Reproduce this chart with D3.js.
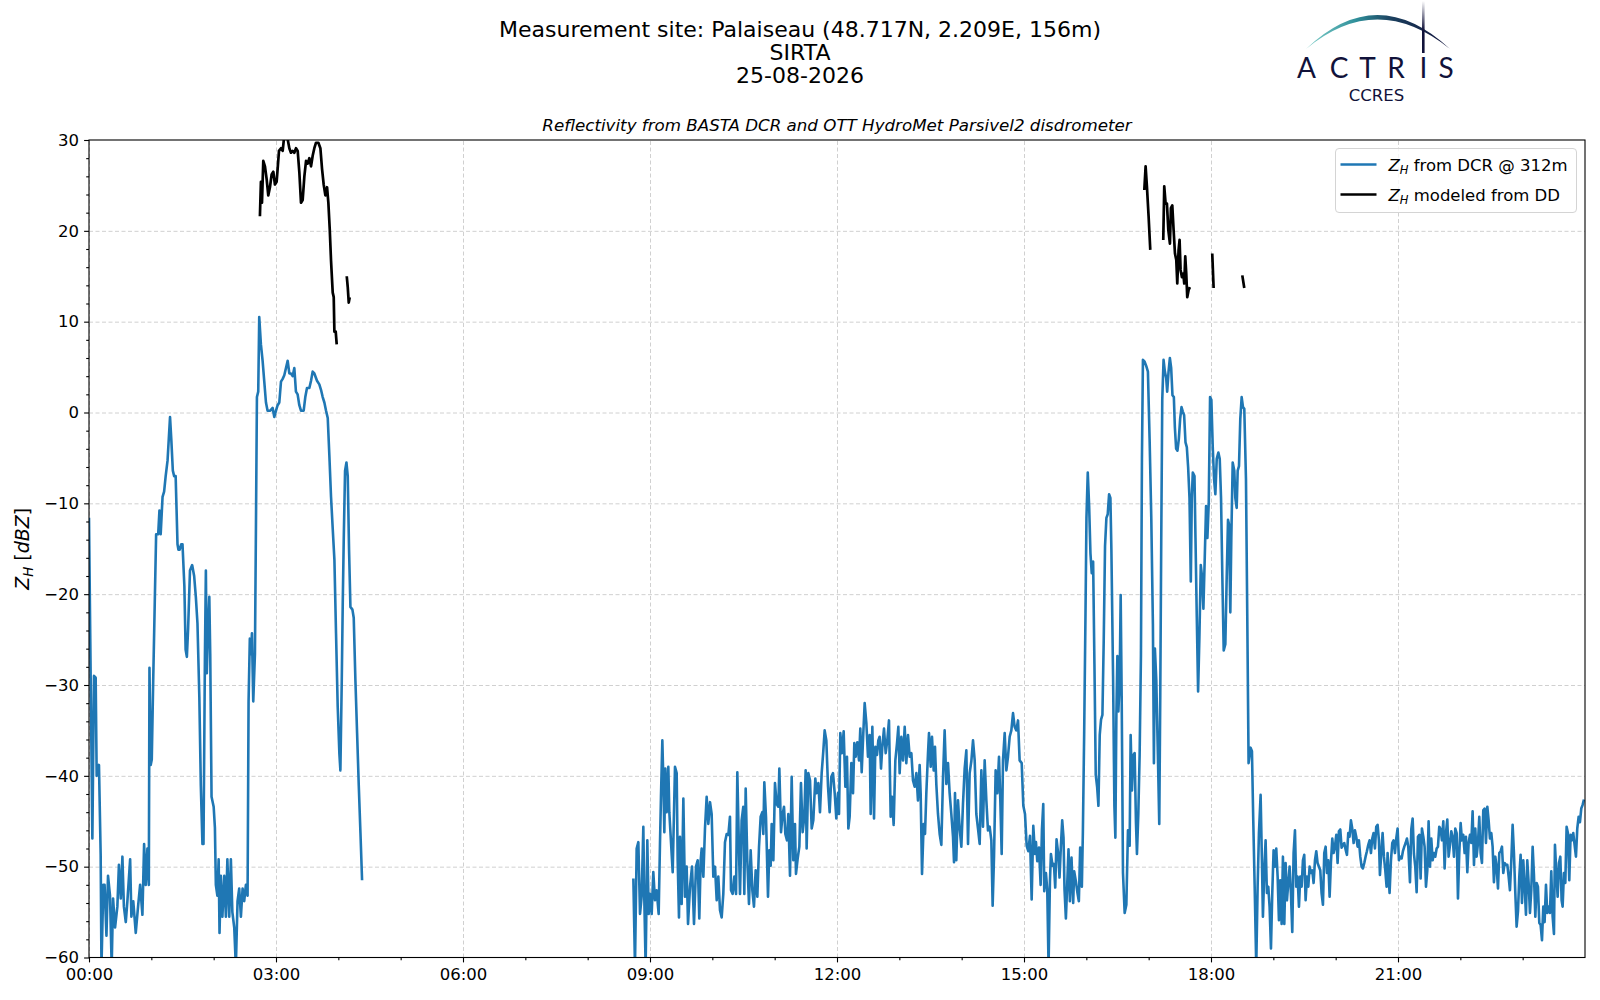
<!DOCTYPE html>
<html>
<head>
<meta charset="utf-8">
<script src="https://cdn.jsdelivr.net/npm/d3@7"></script>
<style>
    body { margin: 0; background: #ffffff; }
    svg text { font-family: "DejaVu Sans", sans-serif; fill: #000; }
    .grid line { stroke: #d0d0d0; stroke-dasharray: 4,2.5; stroke-width: 1; }
    .grid path { display: none; }
    .axis path { display: none; }
    .axis line { stroke: #000; stroke-width: 1.1; }
    .axis text { font-size: 16.5px; }
</style>
</head>
<body>
<div id="chart"></div>
<script>

// ---- values: time in decimal hours, Z_H in dBZ ----

// DCR @ 312m, night rain (00:00 - 04:23)
const dcrTime1 = [0.0, 0.054, 0.08, 0.107, 0.123, 0.16, 0.187, 0.2, 0.23, 0.25, 0.28, 0.305, 0.337, 0.364, 0.386, 0.418,
    0.455, 0.48, 0.51, 0.536, 0.56, 0.59, 0.616, 0.66, 0.68, 0.71, 0.75, 0.787, 0.82, 0.857, 0.884, 0.91, 0.937, 0.96,
    0.97, 0.99, 1.007, 1.03, 1.055, 1.077, 1.11, 1.13, 1.15, 1.18, 1.205, 1.23, 1.26, 1.28, 1.3, 1.32, 1.345, 1.366,
    1.39, 1.42, 1.435, 1.455, 1.48, 1.5, 1.53, 1.55, 1.57, 1.59, 1.62, 1.655, 1.687, 1.714, 1.74, 1.77, 1.794, 1.82,
    1.837, 1.86, 1.875, 1.89, 1.91, 1.93, 1.945, 1.966, 2.0, 2.02, 2.035, 2.06, 2.08, 2.094, 2.115, 2.14, 2.17, 2.196,
    2.22, 2.25, 2.276, 2.3, 2.33, 2.356, 2.383, 2.41, 2.437, 2.464, 2.49, 2.517, 2.544, 2.56, 2.58, 2.598, 2.614, 2.635,
    2.662, 2.678, 2.694, 2.715, 2.731, 2.758, 2.785, 2.812, 2.839, 2.865, 2.908, 2.946, 2.973, 3.0, 3.026, 3.053, 3.08,
    3.107, 3.133, 3.16, 3.187, 3.214, 3.24, 3.267, 3.294, 3.32, 3.347, 3.374, 3.401, 3.444, 3.47, 3.497, 3.535, 3.562,
    3.588, 3.615, 3.658, 3.695, 3.722, 3.749, 3.776, 3.803, 3.83, 3.856, 3.883, 3.91, 3.937, 3.963, 3.99, 4.017, 4.033,
    4.055, 4.071, 4.087, 4.108, 4.13, 4.151, 4.172, 4.194, 4.226, 4.247, 4.274, 4.301, 4.328, 4.355, 4.381];
const dcrZ1 = [-11.6, -46.9, -29, -29.2, -40, -38.8, -48.6, -61, -52, -52, -57.6, -51, -53.2, -61, -53.5, -56.7,
    -54.4, -49.8, -53.5, -48.9, -54.4, -56.1, -53.8, -49.2, -55.5, -53.8, -57.3, -54.4, -52, -55.3, -47.5, -52, -48, -52,
    -28.1, -38.8, -38.2, -29.5, -20.9, -13.4, -13.4, -10.8, -13.4, -9.3, -8.7, -7, -5.3, -2.9, -0.5, -2.9, -6.4, -7,
    -7, -14.5, -15.1, -15.1, -14.5, -14.5, -19.1, -26.1, -26.9, -23.8, -17.4, -16.8, -18, -20.3, -23.2, -31.3, -41.1, -47.5,
    -47.5, -26.6, -17.4, -28.7, -23.8, -20.3, -26.6, -42.3, -43.4, -45.7, -52, -53.2, -49.2, -57.3, -51, -55.5, -51, -55.5,
    -49.2, -55.5, -49.2, -55, -56.7, -61, -53.8, -52.4, -55.5, -52.4, -53.8, -52, -53.2, -31.8, -24.9, -26.6, -24.3, -31.8,
    -26.6, -12.8, 1.7, 2.3, 10.5, 7.5, 5.7, 3.4, 1.1, 0.2, 0.2, 0.5, -0.5, 0.2, 0.8, 1.1, 3.4,
    3.7, 4.1, 4.9, 5.7, 4.3, 4.3, 4.0, 4.9, 2.3, 2.0, 0.8, 0.2, 0.2, 1.7, 2.7, 2.7, 3.5,
    4.5, 4.3, 3.5, 3.1, 2.5, 1.7, 1.1, 0.2, -0.6, -4.7, -9.3, -12.8, -16.2, -24.3, -32.4, -37.6, -39.4,
    -29.5, -20.9, -13.9, -6.4, -5.5, -7, -15.1, -21.4, -21.7, -22.6, -29.5, -35.3, -41.1, -46.3, -51.5];

// DCR @ 312m, 08:44 - 24:00
const dcrTime2 = [8.733, 8.759, 8.786, 8.813, 8.84, 8.866, 8.893, 8.909, 8.93, 8.957, 8.979, 9.0, 9.027, 9.053, 9.08,
    9.107, 9.139, 9.16, 9.176, 9.198, 9.214, 9.23, 9.246, 9.267, 9.294, 9.31, 9.364, 9.401, 9.428, 9.444, 9.465, 9.481,
    9.508, 9.535, 9.561, 9.588, 9.61, 9.642, 9.674, 9.706, 9.738, 9.765, 9.791, 9.813, 9.829, 9.856, 9.882, 9.909, 9.936,
    9.963, 9.989, 10.016, 10.043, 10.07, 10.096, 10.123, 10.15, 10.176, 10.203, 10.23, 10.257, 10.283, 10.3, 10.326,
    10.353, 10.38, 10.401, 10.422, 10.444, 10.47, 10.497, 10.513, 10.535, 10.561, 10.588, 10.615, 10.642, 10.668, 10.695,
    10.722, 10.749, 10.775, 10.802, 10.818, 10.834, 10.861, 10.893, 10.914, 10.936, 10.952, 10.979, 11.005, 11.032,
    11.059, 11.075, 11.102, 11.128, 11.15, 11.171, 11.198, 11.219, 11.246, 11.273, 11.299, 11.326, 11.342, 11.369,
    11.396, 11.422, 11.449, 11.476, 11.497, 11.513, 11.54, 11.567, 11.594, 11.62, 11.652, 11.674, 11.701, 11.727,
    11.754, 11.781, 11.802, 11.829, 11.856, 11.882, 11.909, 11.936, 11.963, 11.989, 12.016, 12.032, 12.053, 12.08,
    12.107, 12.134, 12.16, 12.182, 12.203, 12.23, 12.257, 12.278, 12.299, 12.326, 12.353, 12.374, 12.396, 12.422,
    12.444, 12.471, 12.497, 12.524, 12.54, 12.567, 12.594, 12.615, 12.642, 12.663, 12.684, 12.706, 12.727, 12.754,
    12.781, 12.807, 12.834, 12.861, 12.882, 12.909, 12.936, 12.963, 12.984, 13.005, 13.032, 13.059, 13.086, 13.112,
    13.139, 13.166, 13.193, 13.219, 13.246, 13.273, 13.299, 13.326, 13.342, 13.364, 13.39, 13.412, 13.433, 13.46,
    13.476, 13.503, 13.524, 13.551, 13.572, 13.594, 13.62, 13.647, 13.674, 13.701, 13.727, 13.754, 13.781, 13.807,
    13.834, 13.861, 13.877, 13.893, 13.914, 13.941, 13.968, 13.995, 14.021, 14.048, 14.075, 14.102, 14.128, 14.155,
    14.182, 14.209, 14.235, 14.262, 14.289, 14.316, 14.342, 14.369, 14.396, 14.422, 14.449, 14.476, 14.497, 14.519,
    14.545, 14.572, 14.599, 14.62, 14.642, 14.663, 14.69, 14.717, 14.743, 14.77, 14.797, 14.824, 14.85, 14.877, 14.904,
    14.93, 14.963, 14.989, 15.016, 15.043, 15.069, 15.096, 15.123, 15.149, 15.176, 15.192, 15.213, 15.24, 15.267,
    15.288, 15.309, 15.325, 15.352, 15.373, 15.394, 15.416, 15.432, 15.458, 15.48, 15.501, 15.522, 15.549, 15.57,
    15.592, 15.613, 15.634, 15.65, 15.672, 15.693, 15.714, 15.736, 15.762, 15.789, 15.805, 15.832, 15.858, 15.88,
    15.901, 15.928, 15.944, 15.965, 15.986, 16.002, 16.023, 16.045, 16.066, 16.087, 16.109, 16.13, 16.151, 16.173,
    16.194, 16.215, 16.236, 16.258, 16.279, 16.3, 16.322, 16.343, 16.365, 16.386, 16.402, 16.429, 16.45, 16.466,
    16.482, 16.498, 16.514, 16.535, 16.551, 16.567, 16.588, 16.615, 16.642, 16.668, 16.695, 16.711, 16.732, 16.754,
    16.775, 16.796, 16.812, 16.834, 16.855, 16.876, 16.892, 16.908, 16.935, 16.962, 16.988, 17.015, 17.042, 17.068,
    17.084, 17.1, 17.122, 17.148, 17.17, 17.186, 17.202, 17.218, 17.239, 17.26, 17.281, 17.297, 17.319, 17.34, 17.361,
    17.382, 17.404, 17.42, 17.441, 17.462, 17.484, 17.505, 17.527, 17.548, 17.569, 17.591, 17.612, 17.633, 17.655,
    17.676, 17.692, 17.708, 17.735, 17.751, 17.772, 17.793, 17.814, 17.836, 17.857, 17.878, 17.9, 17.921, 17.942,
    17.964, 17.985, 18.006, 18.028, 18.049, 18.07, 18.092, 18.118, 18.14, 18.161, 18.182, 18.204, 18.23, 18.252,
    18.273, 18.289, 18.31, 18.326, 18.348, 18.374, 18.39, 18.412, 18.428, 18.449, 18.47, 18.492, 18.513, 18.534,
    18.561, 18.582, 18.603, 18.635, 18.657, 18.678, 18.7, 18.726, 18.748, 18.769, 18.796, 18.817, 18.833, 18.855,
    18.876, 18.897, 18.919, 18.94, 18.962, 18.983, 19.004, 19.026, 19.047, 19.069, 19.09, 19.111, 19.133, 19.154,
    19.176, 19.197, 19.218, 19.24, 19.261, 19.282, 19.304, 19.325, 19.347, 19.368, 19.389, 19.411, 19.432, 19.454,
    19.475, 19.496, 19.518, 19.539, 19.561, 19.582, 19.603, 19.625, 19.646, 19.668, 19.689, 19.71, 19.732, 19.753,
    19.774, 19.796, 19.817, 19.839, 19.86, 19.881, 19.903, 19.924, 19.946, 19.967, 19.988, 20.01, 20.031, 20.052,
    20.074, 20.095, 20.117, 20.138, 20.159, 20.181, 20.202, 20.223, 20.245, 20.266, 20.288, 20.309, 20.33, 20.352,
    20.373, 20.395, 20.416, 20.437, 20.459, 20.48, 20.501, 20.523, 20.544, 20.566, 20.587, 20.608, 20.63, 20.651,
    20.673, 20.694, 20.71, 20.732, 20.753, 20.774, 20.796, 20.817, 20.833, 20.849, 20.865, 20.887, 20.908, 20.929,
    20.951, 20.972, 20.994, 21.015, 21.036, 21.058, 21.079, 21.101, 21.122, 21.143, 21.165, 21.192, 21.213, 21.235,
    21.256, 21.277, 21.299, 21.32, 21.342, 21.363, 21.384, 21.406, 21.427, 21.449, 21.47, 21.491, 21.513, 21.534,
    21.556, 21.577, 21.598, 21.62, 21.641, 21.662, 21.684, 21.705, 21.727, 21.748, 21.769, 21.791, 21.812, 21.834,
    21.855, 21.876, 21.898, 21.919, 21.941, 21.962, 21.983, 22.005, 22.026, 22.047, 22.069, 22.09, 22.112, 22.133,
    22.154, 22.176, 22.197, 22.219, 22.24, 22.261, 22.283, 22.304, 22.326, 22.347, 22.368, 22.39, 22.411, 22.433,
    22.454, 22.475, 22.497, 22.518, 22.539, 22.561, 22.582, 22.604, 22.625, 22.647, 22.668, 22.689, 22.711, 22.732,
    22.754, 22.775, 22.796, 22.818, 22.839, 22.86, 22.882, 22.903, 22.925, 22.946, 22.967, 22.989, 23.01, 23.032,
    23.053, 23.074, 23.096, 23.117, 23.138, 23.16, 23.181, 23.203, 23.224, 23.245, 23.267, 23.288, 23.31, 23.331,
    23.352, 23.374, 23.395, 23.417, 23.438, 23.459, 23.481, 23.502, 23.518, 23.539, 23.561, 23.582, 23.604, 23.625,
    23.641, 23.662, 23.684, 23.705, 23.726, 23.748, 23.769, 23.79, 23.812, 23.833, 23.855, 23.876, 23.898, 23.919,
    23.94, 23.962, 23.983];
const dcrZ2 = [-51.3, -61, -48.0, -47.3, -55.2, -53.3, -45.6, -53.7, -61, -47.1, -55.2, -53.0, -55.2, -50.6, -53.7,
    -52.6, -55.2, -47.5, -42.3, -36.1, -40.5, -46.2, -39.2, -44.0, -39.0, -44.0, -50.6, -39.0, -39.7, -49.3, -55.6, -46.7,
    -54.1, -42.5, -53.3, -50.0, -56.3, -52.2, -50.0, -56.3, -50.0, -49.3, -55.7, -49.3, -48.0, -51.1, -45.8, -42.3, -45.3,
    -42.9, -44.2, -51.1, -50.0, -53.7, -51.1, -54.8, -55.6, -53.0, -47.3, -46.4, -46.5, -44.5, -52.6, -53.0,
    -51.1, -53.0, -39.6, -46.4, -53.0, -44.9, -43.4, -53.0, -41.4, -49.3, -54.1, -48.2, -52.6, -54.4, -50.4,
    -53.3, -47.8, -44.5, -44.0, -46.4, -40.7, -44.5, -53.3, -48.2, -49.9, -45.3, -49.3, -40.8, -43.1,
    -43.4, -39.2, -46.2, -44.2, -43.4, -46.4, -47.1, -44.2, -51.0, -40.1, -49.3, -45.3, -50.8, -49.1,
    -47.8, -40.8, -46.2, -44.5, -39.4, -48.0, -39.7, -40.5, -45.8, -44.9, -40.3, -41.9, -40.8, -44.0,
    -39.7, -37.2, -35.0, -36.1, -41.2, -44.0, -40.1, -39.7, -41.9, -44.7, -41.9, -44.2, -35.3, -37.5,
    -35.1, -41.2, -37.9, -45.8, -44.5, -38.6, -41.9, -36.4, -37.9, -36.3, -38.3, -34.8, -39.6, -35.3,
    -32.0, -34.2, -37.9, -35.5, -44.2, -34.6, -44.7, -36.8, -37.7, -36.1, -35.7, -39.2, -36.8, -34.8,
    -37.5, -36.1, -33.9, -44.5, -42.3, -45.4, -38.3, -36.4, -34.6, -39.7, -35.7, -38.3, -34.6, -38.6,
    -35.5, -37.9, -37.5, -40.5, -41.2, -39.7, -42.7, -38.8, -41.9, -50.8, -45.3, -46.4, -41.9, -37.5,
    -35.3, -39.0, -35.7, -39.4, -36.8, -41.0, -44.2, -46.4, -47.6, -40.1, -35.0, -40.9, -38.6, -41.9,
    -44.2, -46.7, -49.5, -41.9, -49.3, -42.7, -45.8, -47.8, -43.1, -39.2, -37.2, -47.5, -39.7, -38.4,
    -36.1, -38.3, -44.2, -45.8, -47.5, -39.4, -45.6, -38.3, -42.7, -46.0, -45.6, -47.1, -54.3, -48.9,
    -39.4, -41.9, -37.9, -42.7, -48.6, -38.3, -35.3, -39.4, -37.9, -35.7, -35.0, -33.1, -34.6, -35.0, -33.9,
    -38.3, -38.6, -43.3, -44.2, -47.7, -48.3, -46.6, -53.6, -45.5, -48.6, -47.3, -49.4, -47.9, -52.0,
    -45.9, -43.1, -52.7, -50.7, -52.5, -61, -51.6, -48.6, -49.9, -49.7, -52.3, -47.0, -48.6, -51.2,
    -47.7, -44.9, -46.8, -52.5, -55.7, -52.0, -48.1, -53.8, -49.0, -54.0, -50.5, -51.6, -52.9, -53.8,
    -47.9, -52.2, -46.4, -35.5, -22.5, -11.6, -6.6, -10.3, -15.5, -17.7, -16.4, -27.7, -39.9, -41.2,
    -43.3, -35.5, -33.8, -33.3, -25.1, -14.7, -11.6, -11.2, -9.0, -9.4, -15.1, -29.0, -43.3, -46.8,
    -33.3, -26.8, -32.9, -29.4, -20.1, -31.2, -50.7, -55.1, -54.2, -46.0, -47.7, -35.5, -41.6, -37.7,
    -37.5, -45.1, -48.6, -44.2, -37.7, -26.8, -5.1, 5.8, 5.6, 5.1, 4.5, -2.9, -11.6, -23.3,
    -38.6, -26.0, -29.4, -37.7, -45.3, -31.2, -13.8, 1.4, 5.8, 4.5, 3.8, 2.3, 4.5, 6.0, 4.9,
    1.9, 1.7, -1.6, -4.0, -4.2, -2.9, -0.7, 0.6, 0.1, -0.3, -3.3, -3.8, -6.0, -9.4,
    -18.6, -9.4, -6.6, -7.0, -13.8, -22.5, -30.7, -24.7, -16.8, -18.1, -21.6, -15.9, -10.3, -13.8,
    -9.9, 1.7, 1.4, -3.8, -7.3, -9.0, -5.1, -4.4, -5.1, -9.4, -18.1, -26.2, -25.5, -18.1,
    -11.8, -12.3, -22.0, -13.8, -5.5, -6.4, -9.4, -10.5, -6.4, -5.9, -0.7, 1.7, 0.6, 0.4,
    -7.3, -22.5, -38.6, -36.9, -37.3, -44.9, -52.0, -61, -52.2, -46.3, -42.1, -49.3, -55.5, -50.4,
    -47.1, -52.9, -52.2, -54.4, -59.0, -52.9, -48.2, -50.0, -48.0, -51.1, -55.9, -51.5, -56.3, -48.9,
    -56.3, -49.6, -53.7, -51.8, -50.0, -52.9, -57.2, -48.5, -46.0, -52.2, -51.1, -54.4, -51.1, -52.2,
    -49.3, -48.7, -53.7, -51.1, -52.2, -50.0, -50.7, -50.4, -51.8, -49.3, -48.3, -49.6, -50.0, -50.4,
    -52.9, -54.2, -48.5, -47.8, -50.7, -49.3, -53.3, -49.5, -46.9, -48.5, -47.8, -46.5, -49.6, -46.1,
    -45.9, -47.9, -47.6, -47.4, -48.1, -48.7, -46.3, -46.7, -44.9, -45.8, -47.4, -46.0, -46.7, -47.8,
    -47.1, -48.9, -50.0, -50.2, -49.6, -48.9, -48.3, -47.6, -47.1, -48.5, -46.9, -46.3, -48.0, -45.6,
    -45.4, -47.1, -50.9, -48.5, -46.3, -48.9, -50.4, -52.2, -48.5, -51.1, -52.9, -49.3, -47.4, -47.1,
    -48.5, -46.9, -45.8, -49.3, -48.9, -49.1, -48.3, -47.8, -47.4, -46.9, -47.8, -51.7, -45.9, -44.7,
    -48.6, -50.0, -52.8, -46.7, -46.5, -51.3, -45.8, -46.7, -47.8, -52.2, -50.4, -45.0, -50.0, -46.9,
    -49.3, -48.5, -48.9, -48.0, -47.8, -45.6, -45.9, -47.1, -45.0, -50.2, -46.3, -44.8, -48.9, -47.6,
    -46.1, -46.7, -48.9, -45.8, -46.3, -53.5, -48.5, -45.2, -47.1, -46.5, -48.5, -46.7, -50.6, -47.4,
    -46.5, -47.4, -43.9, -49.8, -45.8, -48.9, -47.4, -44.5, -48.5, -49.6, -43.8, -43.6, -47.4, -43.4,
    -44.9, -46.9, -46.3, -47.8, -51.7, -48.9, -50.0, -52.4, -48.5, -48.3, -47.8, -50.7, -49.6, -49.8,
    -49.8, -51.1, -52.6, -49.3, -45.4, -48.5, -52.9, -56.6, -54.9, -51.1, -48.7, -54.0, -49.3, -52.2,
    -55.3, -49.3, -51.8, -55.1, -52.6, -47.8, -50.9, -55.5, -51.8, -52.2, -56.2, -56.4, -58.1, -54.4,
    -56.1, -52.0, -55.1, -54.4, -55.1, -50.5, -55.5, -57.4, -47.6, -50.5, -53.3, -49.6, -48.9, -53.7,
    -54.4, -50.7, -51.8, -45.6, -46.3, -51.5, -46.5, -47.1, -46.3, -47.6, -48.9, -45.8, -44.5, -45.1,
    -43.6, -43.2, -42.6];

// Z_H modeled from the disdrometer drop size distribution (null = no rain, gap in line)
const ddTime = [2.742, 2.758, 2.775, 2.796, 2.823, 2.85, 2.876, 2.903, 2.93, 2.957, 2.983, 3.01, 3.026, 3.048, 3.08,
    3.107, 3.133, 3.176, 3.214, 3.24, 3.267, 3.294, 3.321, 3.348, 3.374, 3.401, 3.428, 3.455, 3.482, 3.508, 3.535,
    3.562, 3.589, 3.615, 3.642, 3.68, 3.712, 3.739, 3.765, 3.792, 3.819, 3.84, 3.862, 3.883, 3.91, 3.926, 3.937, 3.958,
    3.974, 4.05, 4.135, 4.151, 4.167, 4.183, 10.0, 16.93, 16.951, 16.972, 16.999, 17.026, 17.13, 17.234, 17.25, 17.272,
    17.293, 17.315, 17.341, 17.357, 17.379, 17.4, 17.422, 17.443, 17.459, 17.48, 17.496, 17.512, 17.534, 17.555, 17.571,
    17.587, 17.603, 17.619, 17.641, 17.662, 17.85, 18.02, 18.042, 18.3, 18.502, 18.534];
const ddZ = [21.6, 25.4, 23.1, 27.7, 27.1, 25.7, 23.9, 24.8, 26.2, 26.5, 25.1, 25.4, 26.8, 28.8, 29.1,
    28.8, 30.5, 30.5, 29.1, 28.6, 28.8, 28.6, 29.1, 28.8, 26.5, 23.1, 23.4, 26.0, 27.7, 27.4, 28.0,
    27.1, 28.3, 29.1, 29.7, 29.7, 29.1, 26.8, 25.1, 23.9, 24.8, 23.1, 20.2, 16.7, 13.2, 12.7, 8.9, 8.9,
    7.5, null, 15.0, 13.8, 12.1, 12.7, null, 24.5, 27.1, 24.9, 21.6, 17.9, null, 19.0, 24.9, 23.0,
    23.0, 20.1, 18.6, 22.5, 22.8, 20.1, 17.5, 16.8, 14.2, 17.9, 19.0, 15.7, 14.9, 15.3, 14.2,
    17.2, 15.3, 12.7, 13.5, 13.8, null, 17.5, 13.7, null, 15.1, 13.7];

// axes
const xTickHours = [0, 3, 6, 9, 12, 15, 18, 21];
const xTickLabels = ["00:00", "03:00", "06:00", "09:00", "12:00", "15:00", "18:00", "21:00"];
const yTickValues = [-60, -50, -40, -30, -20, -10, 0, 10, 20, 30];

const titleLines = ["Measurement site: Palaiseau (48.717N, 2.209E, 156m)", "SIRTA", "25-08-2026"];
const subTitle = "Reflectivity from BASTA DCR and OTT HydroMet Parsivel2 disdrometer";
const legendEntries = [
    {sub: "H", text: " from DCR @ 312m", color: "#1f77b4"},
    {sub: "H", text: " modeled from DD", color: "#000000"}
];


class ReflectivityVis {

    constructor(parentElement) {
        this.parentElement = parentElement;
        this.initVis();
    }

    initVis() {
        let vis = this;

        vis.margin = {top: 140, right: 15, bottom: 42.5, left: 89};
        vis.width = 1600 - vis.margin.left - vis.margin.right;
        vis.height = 1000 - vis.margin.top - vis.margin.bottom;

        vis.root = d3.select("#" + vis.parentElement).append("svg")
            .attr("width", 1600)
            .attr("height", 1000);

        vis.svg = vis.root.append("g")
            .attr("transform", "translate(" + vis.margin.left + "," + vis.margin.top + ")");

        vis.x = d3.scaleLinear().domain([0, 24]).range([0, vis.width]);
        vis.y = d3.scaleLinear().domain([-60, 30]).range([vis.height, 0]);

        vis.svg.append("clipPath").attr("id", "plot-clip")
            .append("rect")
            .attr("width", vis.width)
            .attr("height", vis.height);

        vis.wrangleData();
    }

    wrangleData() {
        let vis = this;

        let zip = (ts, zs) => ts.map((t, i) => ({t: t, z: zs[i]}));
        vis.dcrData = zip(dcrTime1, dcrZ1).concat([{t: 6, z: null}], zip(dcrTime2, dcrZ2));
        vis.ddData = zip(ddTime, ddZ);

        vis.updateVis();
    }

    updateVis() {
        let vis = this;

        // dashed grid
        vis.svg.append("g")
            .attr("class", "grid")
            .attr("transform", "translate(0," + vis.height + ")")
            .call(d3.axisBottom(vis.x).tickValues(xTickHours).tickSize(-vis.height).tickFormat(""));
        vis.svg.append("g")
            .attr("class", "grid")
            .call(d3.axisLeft(vis.y).tickValues(yTickValues.slice(1, -1)).tickSize(-vis.width).tickFormat(""));

        // lines
        let line = d3.line()
            .defined(d => d.z !== null)
            .x(d => vis.x(d.t))
            .y(d => vis.y(d.z));

        let plot = vis.svg.append("g").attr("clip-path", "url(#plot-clip)");
        plot.append("path")
            .datum(vis.dcrData)
            .attr("fill", "none")
            .attr("stroke", legendEntries[0].color)
            .attr("stroke-width", 2.6)
            .attr("stroke-linejoin", "round")
            .attr("d", line);
        plot.append("path")
            .datum(vis.ddData)
            .attr("fill", "none")
            .attr("stroke", legendEntries[1].color)
            .attr("stroke-width", 2.7)
            .attr("stroke-linejoin", "round")
            .attr("d", line);

        // axes, major + minor ticks
        let minorX = d3.range(0, 25).filter(h => h % 3 !== 0);
        let minorY = d3.range(-60, 31, 2).filter(v => v % 10 !== 0);

        vis.svg.append("g")
            .attr("class", "axis")
            .attr("transform", "translate(0," + vis.height + ")")
            .call(d3.axisBottom(vis.x).tickValues(xTickHours).tickSize(4.9).tickPadding(6)
                .tickFormat((d, i) => xTickLabels[i]));
        vis.svg.append("g")
            .attr("class", "axis")
            .attr("transform", "translate(0," + vis.height + ")")
            .call(d3.axisBottom(vis.x).tickValues(minorX).tickSize(2.8).tickFormat(""));
        vis.svg.append("g")
            .attr("class", "axis")
            .call(d3.axisLeft(vis.y).tickValues(yTickValues).tickSize(4.9).tickPadding(5).tickFormat(d3.format("d")));
        vis.svg.append("g")
            .attr("class", "axis")
            .call(d3.axisLeft(vis.y).tickValues(minorY).tickSize(2.8).tickFormat(""));

        vis.svg.append("rect")
            .attr("width", vis.width)
            .attr("height", vis.height)
            .attr("fill", "none")
            .attr("stroke", "#000")
            .attr("stroke-width", 1.1);

        // y label: Z_H [dBZ]
        let ylab = vis.root.append("text")
            .attr("transform", "translate(29," + (vis.margin.top + vis.height / 2) + ") rotate(-90)")
            .attr("text-anchor", "middle")
            .style("font-size", "19px");
        ylab.append("tspan").style("font-style", "italic").text("Z");
        ylab.append("tspan").style("font-style", "italic").style("font-size", "13.3px").attr("dy", 3.5).text("H");
        ylab.append("tspan").attr("dy", -3.5).text(" [");
        ylab.append("tspan").style("font-style", "italic").text("dBZ");
        ylab.append("tspan").text("]");

        // titles
        vis.root.selectAll(".title-line")
            .data(titleLines)
            .enter().append("text")
            .attr("class", "title-line")
            .attr("x", 800)
            .attr("y", (d, i) => 36.5 + i * 23)
            .attr("text-anchor", "middle")
            .style("font-size", "22px")
            .text(d => d);

        vis.root.append("text")
            .attr("x", vis.margin.left + vis.width / 2)
            .attr("y", 130.5)
            .attr("text-anchor", "middle")
            .style("font-size", "16.7px")
            .style("font-style", "italic")
            .text(subTitle);

        vis.drawLegend();
        vis.drawLogo();
    }

    drawLegend() {
        let vis = this;

        let lg = vis.root.append("g").attr("transform", "translate(1335.5,148.5)");
        lg.append("rect")
            .attr("width", 241)
            .attr("height", 64)
            .attr("rx", 3.5)
            .attr("fill", "#fff")
            .attr("fill-opacity", 0.8)
            .attr("stroke", "#d4d4d4")
            .attr("stroke-width", 1);

        let rows = lg.selectAll(".legend-row")
            .data(legendEntries)
            .enter().append("g")
            .attr("class", "legend-row")
            .attr("transform", (d, i) => "translate(0," + (16 + i * 30) + ")");

        rows.append("line")
            .attr("x1", 5).attr("x2", 41)
            .attr("stroke", d => d.color)
            .attr("stroke-width", 2.6);

        let label = rows.append("text")
            .attr("x", 53)
            .attr("y", 6)
            .style("font-size", "16.5px");
        label.append("tspan").style("font-style", "italic").text("Z");
        label.append("tspan").style("font-style", "italic").style("font-size", "11.5px").attr("dy", 3.5).text(d => d.sub);
        label.append("tspan").attr("dy", -3.5).text(d => d.text);
    }

    drawLogo() {
        let vis = this;
        let navy = "#11123a";

        let defs = vis.root.append("defs");
        let arcGrad = defs.append("linearGradient")
            .attr("id", "arc-grad")
            .attr("gradientUnits", "userSpaceOnUse")
            .attr("x1", 1306).attr("x2", 1450).attr("y1", 0).attr("y2", 0);
        arcGrad.append("stop").attr("offset", "0%").attr("stop-color", "#7fcfc9");
        arcGrad.append("stop").attr("offset", "35%").attr("stop-color", "#2f8f9a");
        arcGrad.append("stop").attr("offset", "60%").attr("stop-color", "#1b3f5e");
        arcGrad.append("stop").attr("offset", "100%").attr("stop-color", navy);

        let barGrad = defs.append("linearGradient")
            .attr("id", "bar-grad")
            .attr("gradientUnits", "userSpaceOnUse")
            .attr("x1", 0).attr("x2", 0).attr("y1", 1).attr("y2", 30);
        barGrad.append("stop").attr("offset", "0%").attr("stop-color", "#ffffff");
        barGrad.append("stop").attr("offset", "100%").attr("stop-color", navy);

        let logo = vis.root.append("g").attr("class", "logo");

        // swoosh: thicker at the top, thin at both ends
        logo.append("path")
            .attr("d", "M1306,49 Q1377,-19 1450,49 Q1377,-10 1306,49 Z")
            .attr("fill", "url(#arc-grad)");

        logo.append("rect")
            .attr("x", 1422).attr("y", 1)
            .attr("width", 2.6).attr("height", 52)
            .attr("fill", "url(#bar-grad)");

        let letters = [["A", 1306.5], ["C", 1339], ["T", 1367.5], ["R", 1396], ["I", 1423.3], ["S", 1446]];
        logo.selectAll(".logo-letter")
            .data(letters)
            .enter().append("text")
            .attr("class", "logo-letter")
            .attr("x", d => d[1])
            .attr("y", 77.5)
            .attr("text-anchor", "middle")
            .style("font-family", "Lato, sans-serif")
            .style("font-size", "28px")
            .style("fill", navy)
            .text(d => d[0]);

        logo.append("text")
            .attr("x", 1376.5)
            .attr("y", 100.5)
            .attr("text-anchor", "middle")
            .style("font-family", "'DejaVu Sans', sans-serif")
            .style("font-size", "16.5px")
            .style("fill", navy)
            .text("CCRES");
    }
}

let zhVis = new ReflectivityVis("chart");

</script>
</body>
</html>
